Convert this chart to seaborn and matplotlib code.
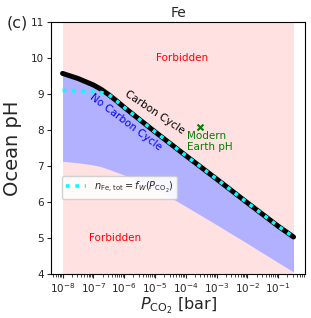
import numpy as np
import pandas as pd
import matplotlib
matplotlib.use("Agg")
import matplotlib.pyplot as plt
import seaborn as sns

# CO2 partial pressure [bar] and ocean pH
p_co2 = [1e-8, 3.16e-8, 1e-7, 1.78e-7, 3.16e-7, 5.62e-7, 1e-6, 3.16e-6, 1e-5,
         3.16e-5, 1e-4, 1e-3, 1e-2, 1e-1, 3.16e-1]
ph_carbon = [9.58, 9.44, 9.26, 9.14, 8.99, 8.82, 8.64, 8.30, 7.96,
             7.63, 7.30, 6.65, 5.99, 5.34, 5.04]
ph_weathering = [9.11, 9.10, 9.08, 9.05, 8.99, 8.82, 8.64, 8.30, 7.96,
                 7.63, 7.30, 6.65, 5.99, 5.34, 5.04]
ph_nocarbon_low = [7.14, 7.10, 7.04, 6.99, 6.92, 6.84, 6.76, 6.57, 6.38,
                   6.14, 5.89, 5.38, 4.86, 4.33, 4.07]

modern_pco2 = [3.0e-4]
modern_ph = [8.09]

ph_min, ph_max = 4, 11

df = pd.DataFrame({'pco2': p_co2, 'carbon': ph_carbon,
                   'weath': ph_weathering, 'low': ph_nocarbon_low})

sns.set_style('ticks')
fig = plt.figure(figsize=(3.11, 3.18), dpi=100)
ax = fig.add_axes([0.164, 0.137, 0.817, 0.793])

# Forbidden region (whole pressure range) and allowed band without carbon cycle
ax.fill_between(df['pco2'], ph_min, ph_max, color='#ffe1e1', lw=0, zorder=0)
ax.fill_between(df['pco2'], df['low'], df['carbon'], color='#b1b1ff', lw=0, zorder=1)

sns.lineplot(data=df, x='pco2', y='carbon', color='black', lw=3.6, ax=ax,
             zorder=3, legend=False)
sns.lineplot(data=df, x='pco2', y='weath', color='cyan', lw=2.6, ls=(0, (1, 1.6)),
             ax=ax, zorder=4, label=r'$n_{\rm Fe,\,tot} = f_W(P_{\rm CO_2})$')
sns.scatterplot(x=modern_pco2, y=modern_ph, marker='x', color='green', s=18,
                linewidth=1.5, ax=ax, zorder=5)

ax.set_xscale('log')
ax.set_ylim(ph_min, ph_max)
ax.set_yticks(range(4, 12))
ax.tick_params(labelsize=7.5, length=3, pad=2)
ax.tick_params(which='minor', length=1.8)
for sp in ax.spines.values():
    sp.set_color('black')

ax.text(10**-4.12, 10.0, 'Forbidden', color='red', fontsize=7.5, ha='center', va='center')
ax.text(10**-6.3, 5.0, 'Forbidden', color='red', fontsize=7.5, ha='center', va='center')
ax.text(10**-5.0, 8.5, 'Carbon Cycle', color='black', fontsize=7.5, rotation=-34,
        ha='center', va='center')
ax.text(10**-5.95, 8.22, 'No Carbon Cycle', color='blue', fontsize=7.5, rotation=-37,
        ha='center', va='center')
ax.text(10**-3.95, 7.98, 'Modern\nEarth pH', color='green', fontsize=7.5,
        ha='left', va='top', linespacing=1.1)

ax.legend(loc='lower left', bbox_to_anchor=(0.045, 0.30), fontsize=7,
          handlelength=2.0, borderaxespad=0, framealpha=0.9)

ax.set_title('Fe', fontsize=10, pad=4)
ax.set_ylabel('Ocean pH', fontsize=14, labelpad=6)
ax.set_xlabel(r'$P_{\rm CO_2}$ [bar]', fontsize=11.5, labelpad=0)
fig.text(0.02, 0.915, '(c)', fontsize=11.5)

fig.savefig('out.png', dpi=100)
